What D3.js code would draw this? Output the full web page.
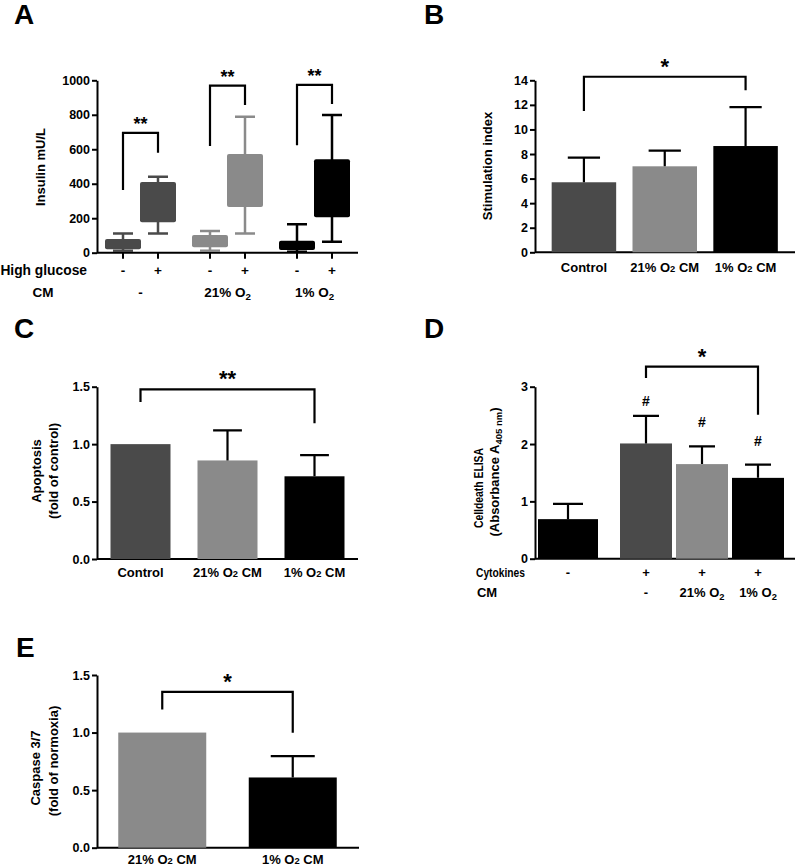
<!DOCTYPE html>
<html><head><meta charset="utf-8">
<script src="https://cdn.jsdelivr.net/npm/d3@7"></script>
<style>
body{margin:0;background:#fff}
svg text{font-family:"Liberation Sans",Arial,sans-serif;font-weight:bold;fill:#000}
</style></head>
<body><svg id="fig" width="796" height="867"></svg>
<script>
// ---------- DATA ----------
// Panel A: insulin box plots
const aGroups = ["-", "21% O2", "1% O2"];
const aGlucose = ["-", "+"];
const aMin = [12, 112, 12, 112, 6, 64];
const aQ1 = [20, 176, 31, 265, 16, 205];
const aMed = [45, 300, 60, 420, 35, 380];
const aQ3 = [79, 410, 103, 572, 70, 542];
const aMax = [112, 441, 126, 789, 165, 799];
const aTicks = [0, 200, 400, 600, 800, 1000];
const aBrackets = [ // group, top, left end, right end
  ["-", 695, 364, 580], ["21% O2", 969, 619, 857], ["1% O2", 973, 623, 862]];
// Panel B: stimulation index
const bCats = ["Control", "21% O2 CM", "1% O2 CM"];
const bVals = [5.70, 7.00, 8.65];
const bErr = [2.00, 1.27, 3.17];
const bTicks = [0, 2, 4, 6, 8, 10, 12, 14];
// Panel C: apoptosis
const cCats = ["Control", "21% O2 CM", "1% O2 CM"];
const cVals = [1.00, 0.858, 0.72];
const cErr = [0, 0.262, 0.184];
const cTicks = [0, 0.5, 1.0, 1.5];
// Panel D: celldeath ELISA
const dKeys = ["ctrl", "cyt", "cyt21", "cyt1"];
const dCytokines = ["-", "+", "+", "+"];
const dCM = ["", "-", "21% O2", "1% O2"];
const dVals = [0.69, 2.01, 1.65, 1.41];
const dErr = [0.265, 0.48, 0.31, 0.23];
const dHash = [null, 2.66, 2.29, 1.97];
const dTicks = [0, 1, 2, 3];
// Panel E: caspase 3/7
const eCats = ["21% O2 CM", "1% O2 CM"];
const eVals = [1.00, 0.61];
const eErr = [0, 0.186];
const eTicks = [0, 0.5, 1.0, 1.5];

// ---------- STYLE ----------
const DARK = "#4a4a4a", LIGHT = "#8a8a8a", BLACK = "#000";
const svg = d3.select("#fig");

function richLabel(g, x, y, str, size, subDy, anchor) {
  const t = g.append("text").attr("x", x).attr("y", y)
    .attr("text-anchor", anchor || "middle").style("font-size", size + "px");
  const m = str.match(/^(.*O)2(.*)$/);
  if (m) {
    t.append("tspan").text(m[1]);
    t.append("tspan").text("2").style("font-size", (size * 0.72) + "px").attr("dy", subDy);
    if (m[2]) t.append("tspan").text(m[2]).attr("dy", -subDy);
  } else t.text(str);
  return t;
}
function yAxis(x, y, ticks, fmt) {
  const g = svg.append("g").attr("transform", `translate(${x},0)`)
    .call(d3.axisLeft(y).tickValues(ticks).tickFormat(fmt).tickSize(5).tickSizeOuter(0).tickPadding(2));
  g.select(".domain").attr("stroke", "#000").attr("stroke-width", 2);
  g.selectAll(".tick line").attr("stroke", "#000").attr("stroke-width", 2);
  g.selectAll(".tick text").style("font-size", "12.5px").style("font-family", "Liberation Sans, Arial").style("font-weight", "bold");
  return g;
}
function xLine(x0, x1, y) {
  svg.append("line").attr("x1", x0).attr("x2", x1).attr("y1", y).attr("y2", y)
    .attr("stroke", "#000").attr("stroke-width", 2);
}
function bracket(x1, x2, yTop, yL, yR, label, size) {
  svg.append("path").attr("d", `M${x1},${yL}V${yTop}H${x2}V${yR}`)
    .attr("fill", "none").attr("stroke", "#000").attr("stroke-width", 2.2);
  svg.append("text").attr("x", (x1 + x2) / 2).attr("y", yTop - 3)
    .attr("text-anchor", "middle").style("font-size", (size || 20) + "px").text(label);
}
function yTitle(lines) {
  lines.forEach(([x, y, str, sub, len, fs]) => {
    const t = svg.append("text").attr("transform", `translate(${x},${y}) rotate(-90)`)
      .attr("text-anchor", "middle").style("font-size", (fs || 13) + "px");
    if (sub) {
      t.append("tspan").text(str);
      t.append("tspan").text(sub).style("font-size", "9.5px").attr("dy", 3);
      t.append("tspan").text(")").attr("dy", -3);
    } else t.text(str);
    if (len) t.attr("textLength", len).attr("lengthAdjust", "spacingAndGlyphs");
  });
}
function panelLabel(x, y, s) {
  svg.append("text").attr("x", x).attr("y", y).style("font-size", "28px").text(s);
}
function bars(cats, vals, errs, x, y, colors, capFrac) {
  const bw = x.bandwidth();
  cats.forEach((c, i) => {
    const cx = x(c) + bw / 2;
    svg.append("rect").attr("x", x(c)).attr("width", bw)
      .attr("y", y(vals[i])).attr("height", y(0) - y(vals[i])).attr("fill", colors[i]);
    if (errs[i] > 0) {
      const cap = bw * capFrac / 2;
      svg.append("path").attr("d",
        `M${cx},${y(vals[i])}V${y(vals[i] + errs[i])}M${cx - cap},${y(vals[i] + errs[i])}H${cx + cap}`)
        .attr("stroke", "#000").attr("stroke-width", 2.2).attr("fill", "none");
    }
  });
}
function band(cats, x0, x1, width) {
  const step = (x1 - x0) / cats.length, p = 1 - width / step;
  return d3.scaleBand().domain(cats).range([x0, x1]).paddingInner(p).paddingOuter(p / 2);
}

// ---------- PANEL A ----------
{
  panelLabel(14, 24, "A");
  const y = d3.scaleLinear().domain([0, 1000]).range([252.7, 80.3]);
  const xg = d3.scaleBand().domain(aGroups).range([97, 358]);
  const xi = d3.scaleBand().domain(aGlucose).range([-35, 35]);
  const colors = [DARK, LIGHT, BLACK];
  const bw = 36, capW = 20;
  xLine(97, 358, y(0));
  yAxis(97, y, aTicks, d3.format("d"));
  aGroups.forEach((gname, gi) => {
    aGlucose.forEach((hg, hi) => {
      const k = gi * 2 + hi;
      const cx = xg(gname) + xg.bandwidth() / 2 + xi(hg) + xi.bandwidth() / 2;
      const col = colors[gi];
      svg.append("line").attr("x1", cx).attr("x2", cx).attr("y1", y(0)).attr("y2", y(0) + 6)
        .attr("stroke", "#000").attr("stroke-width", 2);
      svg.append("path").attr("d",
        `M${cx},${y(aMin[k])}V${y(aMax[k])}M${cx - capW / 2},${y(aMin[k])}H${cx + capW / 2}M${cx - capW / 2},${y(aMax[k])}H${cx + capW / 2}`)
        .attr("stroke", col).attr("stroke-width", 2.5).attr("fill", "none");
      svg.append("rect").attr("x", cx - bw / 2).attr("width", bw).attr("y", y(aQ3[k]))
        .attr("height", y(aQ1[k]) - y(aQ3[k])).attr("rx", 2).attr("fill", col);
      svg.append("line").attr("x1", cx - bw / 2).attr("x2", cx + bw / 2)
        .attr("y1", y(aMed[k])).attr("y2", y(aMed[k])).attr("stroke", col).attr("stroke-width", 2);
      svg.append("text").attr("x", cx).attr("y", 275).attr("text-anchor", "middle")
        .style("font-size", "13.5px").text(hg);
    });
    const c = xg(gname) + xg.bandwidth() / 2;
    richLabel(svg, c, 297, gname, 13.5, 3);
  });
  aBrackets.forEach(([gname, top, l, r]) => {
    const c0 = xg(gname) + xg.bandwidth() / 2;
    bracket(c0 + xi("-") + xi.bandwidth() / 2, c0 + xi("+") + xi.bandwidth() / 2,
      y(top), y(l), y(r), "**", 18);
  });
  svg.append("text").attr("x", 87).attr("y", 275).attr("text-anchor", "end").style("font-size", "13.8px").text("High glucose");
  svg.append("text").attr("x", 43).attr("y", 297).attr("text-anchor", "middle").style("font-size", "13.5px").text("CM");
  yTitle([[44.5, 167, "Insulin mU/L"]]);
}

// ---------- PANEL B ----------
{
  panelLabel(424, 24, "B");
  const y = d3.scaleLinear().domain([0, 14]).range([252.3, 80.3]);
  const x = band(bCats, 543.5, 786, 64.5);
  xLine(535, 795, y(0));
  yAxis(535, y, bTicks, d3.format("d"));
  bars(bCats, bVals, bErr, x, y, [DARK, LIGHT, BLACK], 0.5);
  bCats.forEach(c => richLabel(svg, x(c) + x.bandwidth() / 2, 272, c, 13, 0));
  const cx = c => x(c) + x.bandwidth() / 2;
  bracket(cx(bCats[0]), cx(bCats[2]), y(14.29), y(11.5), y(13.2), "*", 22);
  yTitle([[492, 166, "Stimulation index"]]);
}

// ---------- PANEL C ----------
{
  panelLabel(14, 338, "C");
  const y = d3.scaleLinear().domain([0, 1.5]).range([559, 386.7]);
  const x = band(cCats, 97, 358, 60);
  xLine(97, 358, y(0));
  yAxis(97, y, cTicks, d3.format(".1f"));
  bars(cCats, cVals, cErr, x, y, [DARK, LIGHT, BLACK], 0.48);
  cCats.forEach(c => richLabel(svg, x(c) + x.bandwidth() / 2, 577, c, 13, 0));
  const cx = c => x(c) + x.bandwidth() / 2;
  bracket(cx(cCats[0]), cx(cCats[2]), y(1.476), y(1.366), y(1.181), "**", 22);
  yTitle([[41, 471, "Apoptosis"], [58, 471, "(fold of control)"]]);
}

// ---------- PANEL D ----------
{
  panelLabel(424, 338, "D");
  const y = d3.scaleLinear().domain([0, 3]).range([558.7, 386.7]);
  const xc = d3.scaleOrdinal().domain(dKeys).range([568, 646, 702, 758]);
  const widths = [60, 52, 52, 52];
  const colors = [BLACK, DARK, LIGHT, BLACK];
  xLine(535, 795, y(0));
  yAxis(535, y, dTicks, d3.format("d"));
  dKeys.forEach((k, i) => {
    const cx = xc(k), w = widths[i];
    svg.append("rect").attr("x", cx - w / 2).attr("width", w).attr("y", y(dVals[i]))
      .attr("height", y(0) - y(dVals[i])).attr("fill", colors[i]);
    const cap = w * 0.5 / 2;
    svg.append("path").attr("d",
      `M${cx},${y(dVals[i])}V${y(dVals[i] + dErr[i])}M${cx - cap},${y(dVals[i] + dErr[i])}H${cx + cap}`)
      .attr("stroke", "#000").attr("stroke-width", 2.2).attr("fill", "none");
    if (dHash[i] != null)
      svg.append("text").attr("x", cx).attr("y", y(dHash[i])).attr("text-anchor", "middle")
        .style("font-size", "14px").text("#");
    svg.append("text").attr("x", cx).attr("y", 577).attr("text-anchor", "middle").style("font-size", "13px").text(dCytokines[i]);
    if (dCM[i]) richLabel(svg, cx, 597, dCM[i], 13, 3);
  });
  svg.append("text").attr("x", 525).attr("y", 577).attr("text-anchor", "end").style("font-size", "12px")
    .attr("textLength", 49).attr("lengthAdjust", "spacingAndGlyphs").text("Cytokines");
  svg.append("text").attr("x", 487).attr("y", 597).attr("text-anchor", "middle").style("font-size", "13px").text("CM");
  bracket(xc("cyt"), xc("cyt1"), y(3.35), y(3.15), y(2.51), "*", 22);
  yTitle([[482.5, 488, "Celldeath ELISA", null, 80, 12], [499, 472, "(Absorbance A", "405 nm"]]);
}

// ---------- PANEL E ----------
{
  panelLabel(16, 657, "E");
  const y = d3.scaleLinear().domain([0, 1.5]).range([847.7, 675]);
  const x = band(eCats, 97, 358, 88);
  xLine(97, 359, y(0));
  yAxis(97, y, eTicks, d3.format(".1f"));
  bars(eCats, eVals, eErr, x, y, [LIGHT, BLACK], 0.5);
  eCats.forEach(c => richLabel(svg, x(c) + x.bandwidth() / 2, 864, c, 13, 0));
  const cx = c => x(c) + x.bandwidth() / 2;
  bracket(cx(eCats[0]), cx(eCats[1]), y(1.354), y(1.201), y(0.998), "*", 22);
  yTitle([[40, 768, "Caspase 3/7"], [58, 761, "(fold of normoxia)"]]);
}
</script></body></html>
